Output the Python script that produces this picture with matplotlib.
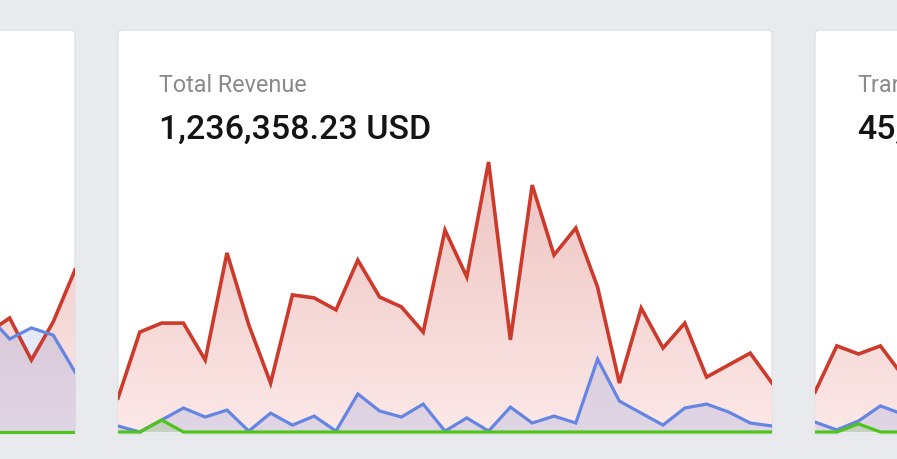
import matplotlib
matplotlib.use('Agg')
import matplotlib.pyplot as plt
import numpy as np
from matplotlib.patches import FancyBboxPatch, Polygon

# daily values, thousands USD
days = list(range(31))
revenue = [11.3, 33.3, 36.3, 36.3, 24.0, 59.7, 35.7, 16.3, 45.7, 44.7, 40.7,
           57.3, 45.0, 41.7, 33.3, 67.3, 51.7, 90.0, 30.7, 82.3, 59.0, 68.0,
           48.3, 16.3, 41.3, 28.0, 36.3, 18.3, 22.3, 26.3, 16.3]
refunds = [2.0, 0.0, 4.0, 8.0, 5.0, 7.3, 0.3, 6.3, 2.3, 5.3, 0.3, 12.7, 7.0,
           5.0, 9.3, 0.3, 4.7, 0.3, 8.3, 3.0, 5.3, 3.0, 24.3, 10.3, 6.3, 2.3,
           8.0, 9.3, 6.7, 3.0, 2.0]
fees = [0, 0, 4.0, 0, 0, 0, 0, 0, 0, 0, 0, 0, 0, 0, 0, 0, 0, 0, 0, 0, 0, 0,
        0, 0, 0, 0, 0, 0, 0, 0, 0]

# neighbour cards, only the visible part
left_days = [26, 27, 28, 29, 30]
left_red = [33.0, 38.0, 24.0, 36.7, 54.0]
left_blue = [39.0, 31.0, 34.7, 32.3, 20.0]
left_green = [0, 0, 0, 0, 0]

right_days = [0, 1, 2, 3, 4]
right_red = [13.3, 28.7, 26.0, 28.7, 19.0]
right_blue = [3.3, 0.7, 3.7, 8.7, 6.0]
right_green = [0, 0, 2.7, 0, 0]

RED = '#cc3a2c'
BLUE = '#6585e2'
GREEN = '#4fc41c'
BG = '#e9eaed'

W, H = 897, 459
fig = plt.figure(figsize=(W / 100, H / 100), dpi=100, facecolor=BG)

# layout axes in pixel coordinates
bg = fig.add_axes([0, 0, 1, 1])
bg.set_xlim(0, W)
bg.set_ylim(H, 0)
bg.axis('off')

cards = [(-600, 30, 75, 434), (118, 30, 772, 434), (815, 30, 1500, 434)]
for x0, y0, x1, y1 in cards:
    bg.add_patch(FancyBboxPatch((x0, y0), x1 - x0, y1 - y0,
                                boxstyle='round,pad=0,rounding_size=5',
                                facecolor='white', edgecolor='#dcdde0',
                                linewidth=0.8))

bg.text(159, 91.5, 'Total Revenue', fontsize=16.8, color='#8a8a8a',
        family='Roboto', va='baseline', ha='left')
bg.text(159, 139, '1,236,358.23 USD', fontsize=24.5, color='#141414',
        family='Roboto', fontweight='medium', va='baseline', ha='left')
bg.text(857, 91.5, 'Transactions', fontsize=16.8, color='#8a8a8a',
        family='Roboto', va='baseline', ha='left', clip_on=True)
bg.text(857, 139, '45,312', fontsize=24.5, color='#141414',
        family='Roboto', fontweight='medium', va='baseline', ha='left',
        clip_on=True)


def chart(x_left, x, red, blue, green):
    # chart spans 654 px for 30 day steps, baseline at y=432
    top, bottom = 150, 433.5
    ax = fig.add_axes([x_left / W, 1 - bottom / H, 654 / W, (bottom - top) / H])
    ax.set_xlim(0, 30)
    ylo = -(bottom - 432) / 3
    ax.set_ylim(ylo, ylo + (bottom - top) / 3)
    ax.axis('off')
    ax.patch.set_alpha(0)

    # red area with vertical gradient
    pts = [(x[0], 0)] + list(zip(x, red)) + [(x[-1], 0)]
    poly = Polygon(pts, closed=True, facecolor='none', edgecolor='none')
    ax.add_patch(poly)
    grad = np.linspace(1, 0, 256).reshape(-1, 1)
    c_top = np.array([0.93, 0.76, 0.75])
    c_bot = np.array([0.985, 0.91, 0.905])
    img = c_bot + (c_top - c_bot) * grad[..., None]
    im = ax.imshow(img, extent=[0, 30, 0, 94], aspect='auto',
                   origin='upper', zorder=1)
    im.set_clip_path(poly)

    ax.fill_between(x, blue, 0, color=BLUE, alpha=0.18, linewidth=0, zorder=2)
    ax.fill_between(x, green, 0, color=GREEN, alpha=0.18, linewidth=0, zorder=2)
    ax.plot(x, red, color=RED, lw=2.6, zorder=4, solid_joinstyle='miter')
    ax.plot(x, blue, color=BLUE, lw=2.3, zorder=4, solid_joinstyle='miter')
    ax.plot(x, green, color=GREEN, lw=2.3, zorder=5, solid_joinstyle='miter')
    return ax


chart(118, days, revenue, refunds, fees)
chart(75 - 654, left_days, left_red, left_blue, left_green)
chart(815, right_days, right_red, right_blue, right_green)

plt.savefig('out.png', dpi=100, facecolor=BG)
